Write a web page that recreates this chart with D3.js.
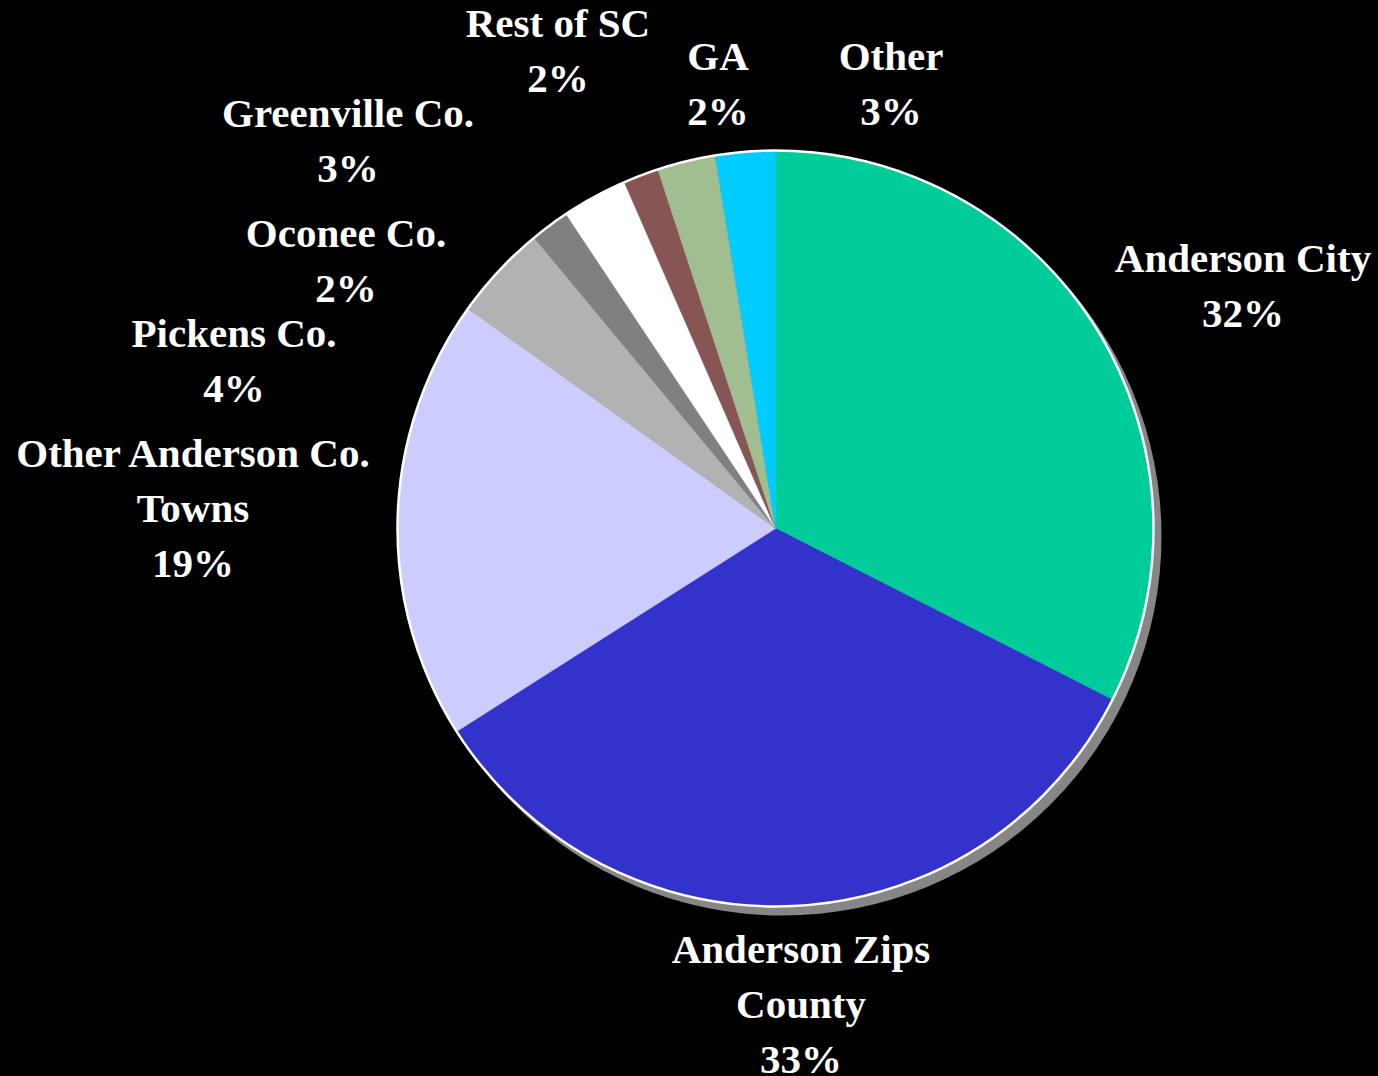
<!DOCTYPE html>
<html>
<head>
<meta charset="utf-8">
<script src="https://cdn.jsdelivr.net/npm/d3@7"></script>
<style>
  html, body { margin: 0; padding: 0; background: #000; }
  svg { display: block; }
  text { font-family: "Liberation Serif", "Times New Roman", serif; font-weight: bold; fill: #fff; }
</style>
</head>
<body>
<svg id="chart" width="1378" height="1076"></svg>
<script>
// Share of records by area (percent), clockwise from 12 o'clock
const categories = [
  "Anderson City",
  "Anderson Zips\nCounty",
  "Other Anderson Co.\nTowns",
  "Pickens Co.",
  "Oconee Co.",
  "Greenville Co.",
  "Rest of SC",
  "GA",
  "Other"
];
const shares = [32.49, 33.49, 18.9, 4.1, 1.67, 2.8, 1.51, 2.49, 2.55];
const sliceColors = ["#00CC99", "#3333CC", "#CCCCFF", "#B2B2B2", "#808080", "#FFFFFF", "#885555", "#A1BE91", "#00CCFF"];

// Layout: pie geometry and where each label block sits (centre x, first baseline)
const W = 1378, H = 1076;
const cx = 775.5, cy = 528.5, radius = 378;
const shadowOffset = [7, 8];
const labelSpots = [
  [1243, 272], [801, 963], [193, 467], [234, 347], [346, 247],
  [348, 127], [558, 37], [718, 69.5], [891, 69.5]
];
const lineStep = 55;
const fontSize = 41;

const svg = d3.select("#chart");
svg.append("rect").attr("width", W).attr("height", H).attr("fill", "#000");

const total = d3.sum(shares);
const pie = d3.pie().sort(null).value(d => d)(shares);
const arc = d3.arc().innerRadius(0).outerRadius(radius);
const color = d3.scaleOrdinal().domain(d3.range(categories.length)).range(sliceColors);

// drop shadow behind the pie
svg.append("circle")
  .attr("cx", cx + shadowOffset[0]).attr("cy", cy + shadowOffset[1])
  .attr("r", radius + 1)
  .attr("fill", "#868686");

const g = svg.append("g").attr("transform", `translate(${cx},${cy})`);

g.selectAll("path.slice")
  .data(pie)
  .join("path")
  .attr("class", "slice")
  .attr("d", arc)
  .attr("fill", (d, i) => color(i))
  .attr("stroke", (d, i) => color(i))
  .attr("stroke-width", 0.6);

// white rim around the pie
g.append("circle")
  .attr("r", radius)
  .attr("fill", "none")
  .attr("stroke", "#fff")
  .attr("stroke-width", 2.5);

// category labels with percentages
const labels = svg.append("g");
categories.forEach((name, i) => {
  const lines = name.split("\n").concat([Math.round(shares[i] / total * 100) + "%"]);
  const [x, y] = labelSpots[i];
  const t = labels.append("text")
    .attr("text-anchor", "middle")
    .attr("font-size", fontSize);
  lines.forEach((ln, k) => {
    t.append("tspan").attr("x", x).attr("y", y + k * lineStep).text(ln);
  });
});
</script>
</body>
</html>
